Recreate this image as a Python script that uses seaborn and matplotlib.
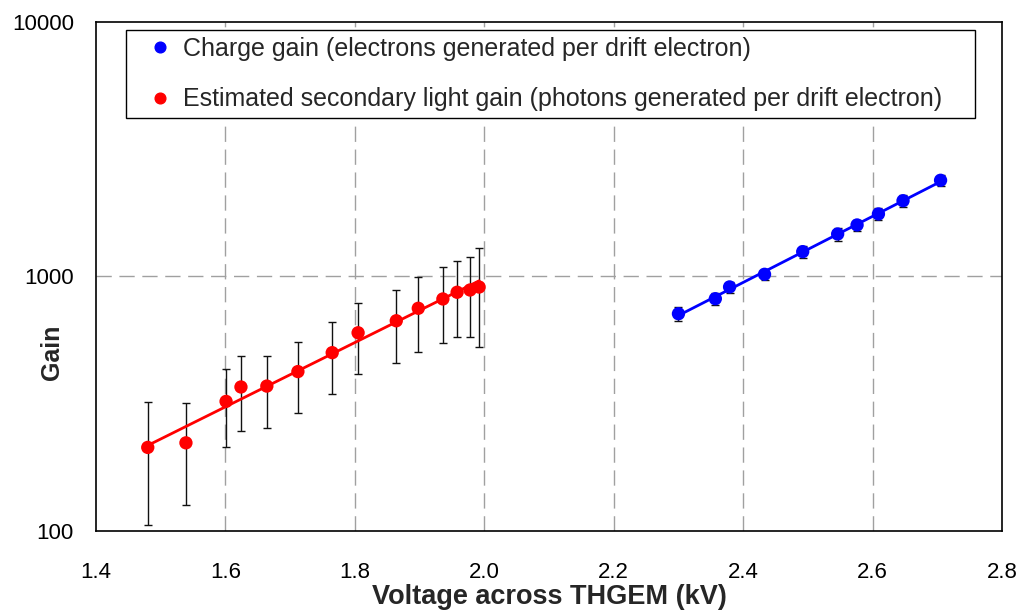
import numpy as np
import pandas as pd
import matplotlib
matplotlib.use("Agg")
import matplotlib.pyplot as plt
from matplotlib.ticker import MultipleLocator, FixedLocator, NullFormatter, LogLocator
from matplotlib.lines import Line2D
import seaborn as sns

# ---- data ----
light_v = [1.480, 1.539, 1.601, 1.624, 1.664, 1.712, 1.765, 1.805, 1.864, 1.898, 1.936, 1.958, 1.978, 1.992]
light_gain = [213, 222, 323, 368, 371, 423, 502, 601, 670, 750, 816, 867, 885, 909]
light_err = [107, 95, 109, 120, 117, 132, 158, 189, 211, 245, 270, 288, 305, 380]

charge_v = [2.300, 2.357, 2.379, 2.433, 2.492, 2.546, 2.576, 2.609, 2.647, 2.705]
charge_gain = [714, 818, 910, 1020, 1252, 1469, 1594, 1761, 1985, 2388]
charge_err = [45, 42, 45, 55, 70, 85, 80, 90, 110, 120]

x_ticks = [1.4, 1.6, 1.8, 2.0, 2.2, 2.4, 2.6, 2.8]
x_tick_labels = ["1.4", "1.6", "1.8", "2.0", "2.2", "2.4", "2.6", "2.8"]
y_ticks = [100, 1000, 10000]
y_tick_labels = ["100", "1000", "10000"]

label_charge = "Charge gain (electrons generated per drift electron)"
label_light = "Estimated secondary light gain (photons generated per drift electron)"

sns.set_style("white")
plt.rcParams['font.family'] = ['Liberation Sans', 'DejaVu Sans']

df_light = pd.DataFrame({"V": light_v, "G": light_gain, "E": light_err})
df_charge = pd.DataFrame({"V": charge_v, "G": charge_gain, "E": charge_err})

# exponential trendlines (fit in log space)
def trend(df):
    p = np.polyfit(df["V"], np.log10(df["G"]), 1)
    xs = np.linspace(df["V"].min(), df["V"].max(), 50)
    return pd.DataFrame({"V": xs, "G": 10 ** np.polyval(p, xs)})

fig = plt.figure(figsize=(10.2, 6.13), dpi=100)
ax = fig.add_axes([0.0941, 0.1338, 0.8883, 0.8303])

ax.set_yscale("log")
ax.set_xlim(1.4, 2.8)
ax.set_ylim(100, 10000)

# grid
dash = (0, (11, 5.5))
for xv in x_ticks[1:-1]:
    ax.axvline(xv, color="#a0a0a0", lw=1.0, ls=dash, zorder=0)
ax.axhline(1000, color="#a0a0a0", lw=1.0, ls=dash, zorder=0)

# error bars
ax.errorbar(df_light["V"], df_light["G"], yerr=df_light["E"], fmt="none",
            ecolor="#111111", elinewidth=1.0, capsize=2.8, capthick=1.0, zorder=2)
ax.errorbar(df_charge["V"], df_charge["G"], yerr=df_charge["E"], fmt="none",
            ecolor="#111111", elinewidth=1.0, capsize=2.8, capthick=1.0, zorder=2)

# trendlines
sns.lineplot(data=trend(df_light), x="V", y="G", color="#ff0000", lw=2, ax=ax, zorder=3)
sns.lineplot(data=trend(df_charge), x="V", y="G", color="#0000ff", lw=2, ax=ax, zorder=3)

# markers
sns.scatterplot(data=df_light, x="V", y="G", color="#ff0000", s=92, edgecolor="none",
                ax=ax, zorder=4)
sns.scatterplot(data=df_charge, x="V", y="G", color="#0000ff", s=92, edgecolor="none",
                ax=ax, zorder=4)

# ticks
ax.xaxis.set_major_locator(FixedLocator(x_ticks))
ax.set_xticklabels(x_tick_labels)
ax.xaxis.set_minor_locator(MultipleLocator(0.04))
ax.yaxis.set_major_locator(FixedLocator(y_ticks))
ax.set_yticklabels(y_tick_labels)
ax.yaxis.set_minor_locator(LogLocator(base=10, subs=np.arange(2, 10)))
ax.yaxis.set_minor_formatter(NullFormatter())
ax.tick_params(axis="both", which="major", direction="in", length=6, width=1,
               labelsize=16, colors="black")
ax.tick_params(axis="both", which="minor", direction="in", length=5, width=1, colors="black")
ax.tick_params(axis="y", which="minor", length=4)
ax.tick_params(axis="y", which="major", pad=16)
ax.tick_params(axis="x", which="major", pad=22)

for sp in ax.spines.values():
    sp.set_color("black")
    sp.set_linewidth(1.2)

ax.set_xlabel("Voltage across THGEM (kV)", fontsize=19.5, fontweight="bold", labelpad=1)
ax.set_ylabel("Gain", fontsize=18, fontweight="bold", va="center", ha="center")
ax.yaxis.set_label_coords(-0.048, 0.352)

handles = [
    Line2D([], [], marker="o", color="#0000ff", ls="none", markersize=7.7),
    Line2D([], [], marker="o", color="#ff0000", ls="none", markersize=7.7),
]
leg = ax.legend(handles, [label_charge, label_light], loc="upper left",
                bbox_to_anchor=(0.033, 0.819, 0.937, 0.165), mode="expand",
                borderaxespad=0, fontsize=18, labelspacing=1.05, handlelength=2.2,
                handletextpad=-0.2, borderpad=0.28, fancybox=False, framealpha=1,
                edgecolor="black")
leg.get_frame().set_linewidth(1.0)

fig.savefig("out.png", dpi=100)
